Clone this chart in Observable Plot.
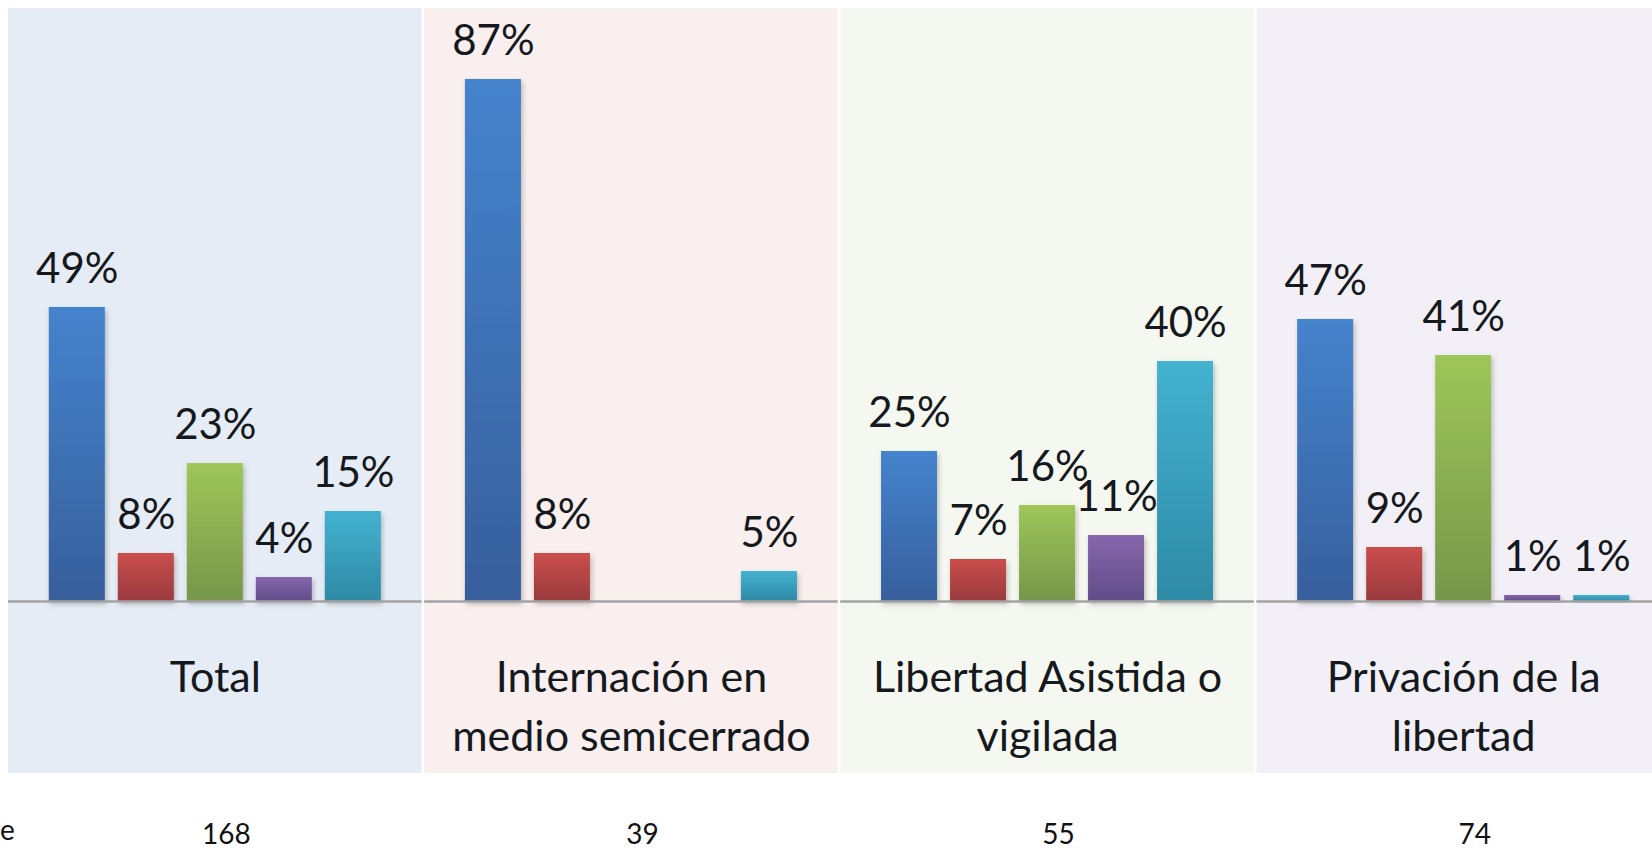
<!DOCTYPE html>
<html>
<head>
<meta charset="utf-8">
<script src="https://cdn.jsdelivr.net/npm/d3@7"></script>
<script src="https://cdn.jsdelivr.net/npm/@observablehq/plot@0.6"></script>
<style>
  html, body { margin: 0; padding: 0; background: #ffffff; overflow: hidden; width: 1652px; height: 848px; }
  #chart { position: relative; width: 1652px; height: 848px; overflow: hidden; }
  #chart svg { max-width: none !important; }
  #rowlabel { position: absolute; left: 0px; top: 812px; font: 28px Lato, sans-serif; color: #111; white-space: nowrap; }
</style>
</head>
<body>
<div id="chart"></div>
<script>
// ---- data ----
const categories = ["Total", "Internación en medio semicerrado", "Libertad Asistida o vigilada", "Privación de la libertad"];
const categoryLabels = ["Total", "Internación en\nmedio semicerrado", "Libertad Asistida o\nvigilada", "Privación de la\nlibertad"];
const series = ["Serie 1", "Serie 2", "Serie 3", "Serie 4", "Serie 5"];
const serie1 = [49, 87, 25, 47];
const serie2 = [8, 8, 7, 9];
const serie3 = [23, null, 16, 41];
const serie4 = [4, null, 11, 1];
const serie5 = [15, 5, 40, 1];
const counts = [168, 39, 55, 74];
const rowLabel = "e";

// ---- styles ----
const panelColors = ["#e5ecf5", "#f8efee", "#f5f8f0", "#f2f0f6"];
const gradStops = [
  ["#4583cd", "#375f9c"],
  ["#cb4e4c", "#993a3e"],
  ["#9fc65a", "#76964a"],
  ["#8667ab", "#614c88"],
  ["#44b2d1", "#2e8aa5"]
];

const seriesValues = [serie1, serie2, serie3, serie4, serie5];
const table = [];
categories.forEach((c, i) => {
  series.forEach((s, j) => {
    const v = seriesValues[j][i];
    if (v != null) table.push({category: c, series: s, si: j, value: v});
  });
});
const panels = categories.map((c, i) => ({category: c, label: categoryLabels[i], color: panelColors[i], count: counts[i]}));

const svg = Plot.plot({
  width: 1670,
  height: 848,
  marginTop: 8,
  marginBottom: 75,
  marginLeft: 8,
  marginRight: 0,
  style: {fontFamily: "Lato, sans-serif", background: "transparent", overflow: "visible", maxWidth: "none"},
  fx: {domain: categories, paddingInner: 0.006, paddingOuter: 0, axis: null, round: false},
  x: {domain: series, paddingInner: 0.188, paddingOuter: 0.591, axis: null, round: false},
  y: {domain: [-28.67, 98.83], axis: null},
  color: {type: "identity"},
  marks: [
    Plot.rect(panels, {fx: "category", fill: "color"}),
    Plot.barY(table, {fx: "category", x: "series", y: "value", fill: d => `url(#grad${d.si})`}),
    Plot.ruleY(panels, {fx: "category", y: () => 0, stroke: "#a3a3a3", strokeWidth: 2.5}),
    Plot.text(table, {fx: "category", x: "series", y: "value", text: d => d.value + "%", lineAnchor: "bottom", dy: -24, fontSize: 42, fill: "#15181c"}),
    Plot.text(panels, {fx: "category", text: "label", frameAnchor: "bottom", lineAnchor: "top", dy: -123, fontSize: 43, lineHeight: 1.37, fill: "#15181c"}),
    Plot.text(panels, {fx: "category", text: d => String(d.count), frameAnchor: "bottom", lineAnchor: "bottom", dy: 70, dx: 11, fontSize: 28, fill: "#111111"})
  ]
});

// gradients + shadow
const defs = d3.select(svg).insert("defs", ":first-child");
gradStops.forEach((st, i) => {
  const g = defs.append("linearGradient").attr("id", "grad" + i).attr("x1", 0).attr("y1", 0).attr("x2", 0).attr("y2", 1);
  g.append("stop").attr("offset", "0%").attr("stop-color", st[0]);
  g.append("stop").attr("offset", "100%").attr("stop-color", st[1]);
});
const f = defs.append("filter").attr("id", "shadow").attr("x", "-20%").attr("y", "-20%").attr("width", "150%").attr("height", "150%");
f.append("feDropShadow").attr("dx", 1.5).attr("dy", 3).attr("stdDeviation", 2.5).attr("flood-color", "#000").attr("flood-opacity", 0.25);
d3.select(svg).selectAll("g[aria-label='bar'] rect").attr("filter", "url(#shadow)");

document.getElementById("chart").appendChild(svg);
const rl = document.createElement("div");
rl.id = "rowlabel";
rl.textContent = rowLabel;
document.getElementById("chart").appendChild(rl);
</script>
</body>
</html>
